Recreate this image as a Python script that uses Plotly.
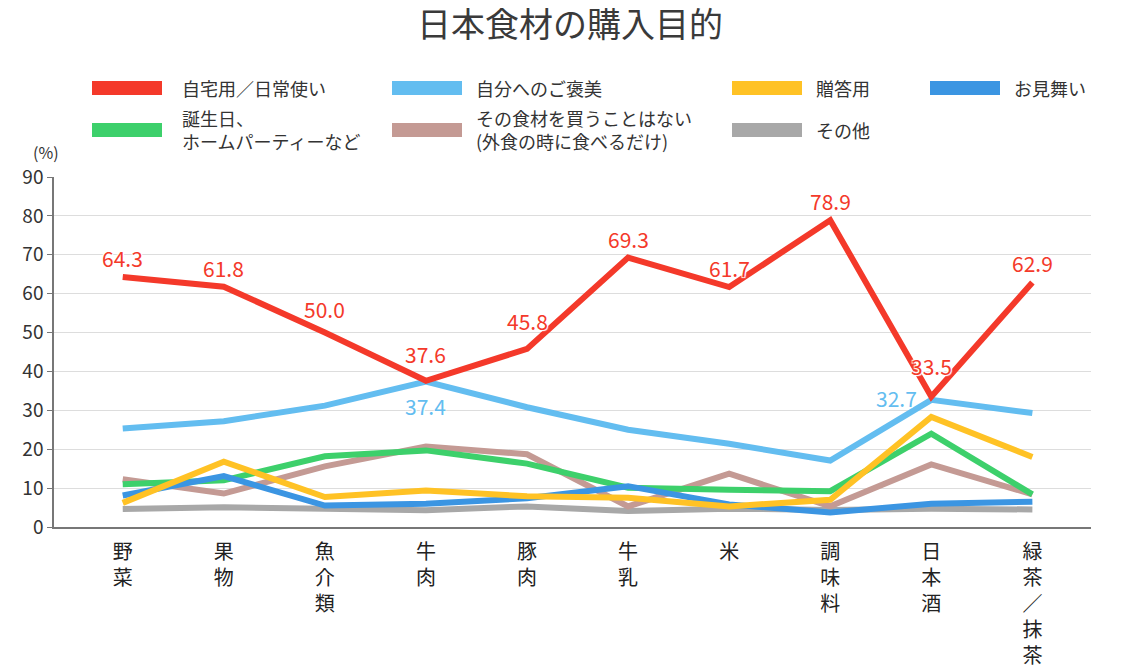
import plotly.graph_objects as go

categories = ["野菜", "果物", "魚介類", "牛肉", "豚肉", "牛乳", "米", "調味料", "日本酒", "緑茶／抹茶"]

home_use = [64.3, 61.8, 50.0, 37.6, 45.8, 69.3, 61.7, 78.9, 33.5, 62.9]
self_reward = [25.3, 27.2, 31.2, 37.4, 30.8, 25.0, 21.4, 17.1, 32.7, 29.3]
gift = [6.2, 16.8, 7.7, 9.4, 7.9, 7.5, 5.3, 7.0, 28.3, 18.0]
sympathy = [8.1, 13.1, 5.5, 6.0, 7.4, 10.5, 5.8, 3.7, 6.0, 6.5]
birthday = [11.0, 12.0, 18.2, 19.7, 16.3, 10.1, 9.6, 9.2, 24.0, 8.4]
never_buy = [12.3, 8.6, 15.6, 20.7, 18.7, 5.3, 13.7, 5.3, 16.1, 8.4]
other = [4.6, 5.1, 4.7, 4.3, 5.3, 4.1, 4.7, 4.4, 4.7, 4.5]

series_names = [
    "自宅用／日常使い", "自分へのご褒美", "贈答用", "お見舞い",
    "誕生日、<br>ホームパーティーなど", "その食材を買うことはない<br>(外食の時に食べるだけ)", "その他",
]
series_colors = ["#F4392A", "#63BDF0", "#FFC225", "#3B95E2", "#3DD06B", "#C49A94", "#A8A8A8"]
y_ticks = [0, 10, 20, 30, 40, 50, 60, 70, 80, 90]

FONT = "Noto Sans CJK JP"
x_idx = list(range(len(categories)))
tick_text = ["<br>".join(list(c)) for c in categories]
halo = "1px 1px 1px #fff, -1px -1px 1px #fff, 1px -1px 1px #fff, -1px 1px 1px #fff"

fig = go.Figure()
data = [home_use, self_reward, gift, sympathy, birthday, never_buy, other]
draw_order = [6, 5, 4, 3, 2, 1, 0]

for i in draw_order:
    fig.add_trace(go.Scatter(
        x=x_idx, y=data[i], mode="lines",
        line=dict(color=series_colors[i], width=6),
        name=series_names[i].replace("<br>", ""),
        showlegend=False, hoverinfo="skip",
    ))

annotations = []
# value labels for 自宅用／日常使い (above each point)
red_shift = {2: 24, 3: 27, 4: 28, 8: 31}
for k, v in enumerate(home_use):
    annotations.append(dict(x=k, y=v, xref="x", yref="y", text=f"{v:.1f}", showarrow=False,
                            yshift=red_shift.get(k, 19), xanchor="center", yanchor="middle",
                            font=dict(family=FONT, size=21, color=series_colors[0], shadow=halo)))
# selected labels for 自分へのご褒美
annotations.append(dict(x=3, y=self_reward[3], xref="x", yref="y", text=f"{self_reward[3]:.1f}",
                        showarrow=False, yshift=-24, xanchor="center", yanchor="middle",
                        font=dict(family=FONT, size=21, color=series_colors[1], shadow=halo)))
annotations.append(dict(x=8, y=self_reward[8], xref="x", yref="y", text=f"{self_reward[8]:.1f}",
                        showarrow=False, xshift=-12, yshift=2, xanchor="right", yanchor="middle",
                        font=dict(family=FONT, size=21, color=series_colors[1], shadow=halo)))

# custom legend (paper coordinates)
L, R, T, B = 54, 1091, 177, 527
W, H = R - L, B - T
def px(xp):
    return (xp - L) / W
def py(yp):
    return (B - yp) / H

legend_cols = [(92, 180), (392, 474), (732, 814), (930, 1012)]
legend_rows = [88, 130]
shapes = []
for k, name in enumerate(series_names):
    r, c = divmod(k, 4)
    sx, tx = legend_cols[c]
    yy = legend_rows[r]
    shapes.append(dict(type="rect", xref="paper", yref="paper",
                       x0=px(sx), x1=px(sx + 70), y0=py(yy + 7), y1=py(yy - 7),
                       fillcolor=series_colors[k], line=dict(width=0)))
    annotations.append(dict(xref="paper", yref="paper", x=px(tx), y=py(yy),
                            xanchor="left", yanchor="middle", text=name, showarrow=False,
                            align="left",
                            font=dict(family=FONT, size=18, color="#333333")))

annotations.append(dict(xref="paper", yref="paper", x=px(46), y=py(152),
                        xanchor="center", yanchor="middle", text="(%)", showarrow=False,
                        font=dict(family=FONT, size=16, color="#333333")))

fig.update_layout(
    width=1140, height=670,
    margin=dict(l=L, r=1140 - R, t=T, b=670 - B),
    paper_bgcolor="white", plot_bgcolor="white",
    title=dict(text="日本食材の購入目的", x=0.5, xanchor="center", y=1 - 25 / 670,
               yanchor="middle", yref="container",
               font=dict(family=FONT, size=34, color="#3a3a3a")),
    shapes=shapes,
    annotations=annotations,
    showlegend=False,
    xaxis=dict(
        range=[-0.68, 9.58], tickmode="array", tickvals=x_idx, ticktext=tick_text,
        showgrid=False, zeroline=False, showline=True, linecolor="#777777", linewidth=2,
        ticks="outside", ticklen=6, tickcolor="rgba(0,0,0,0)", automargin=False,
        tickfont=dict(family=FONT, size=20, color="#222222"), tickangle=0,
    ),
    yaxis=dict(
        range=[0, 90], tickmode="array", tickvals=y_ticks, automargin=False,
        showgrid=True, gridcolor="#dddddd", gridwidth=1, zeroline=False,
        showline=True, linecolor="#777777", linewidth=1.5,
        ticks="outside", ticklen=5, tickcolor="#777777",
        tickfont=dict(family=FONT, size=19, color="#333333"),
    ),
)

fig.write_html("out.html", config={"displayModeBar": False},
               post_script="document.body.style.margin='0px';")
